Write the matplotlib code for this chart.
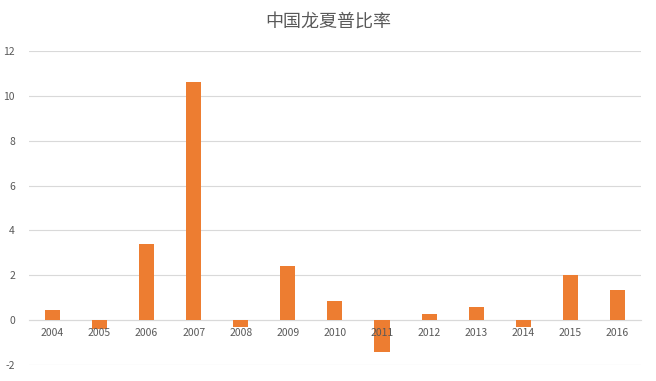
import numpy as np
import matplotlib.pyplot as plt

plt.rcParams['font.family'] = ['Noto Sans CJK SC', 'DejaVu Sans']
plt.rcParams['axes.unicode_minus'] = False

years = ['2004', '2005', '2006', '2007', '2008', '2009', '2010',
         '2011', '2012', '2013', '2014', '2015', '2016']
sharpe = [0.45, -0.40, 3.39, 10.63, -0.30, 2.41, 0.85,
          -1.43, 0.27, 0.58, -0.30, 2.01, 1.34]

fig = plt.figure(figsize=(6.56, 3.81), dpi=100)
ax = fig.add_axes([0.044, 0.042, 0.933, 0.824])

x = np.arange(len(years))
ax.bar(x, sharpe, width=0.32, color='#ED7D31', zorder=3)

ax.set_xlim(-0.5, len(years) - 0.5)
ax.set_ylim(-2, 12)
ax.set_yticks(range(-2, 13, 2))
ax.grid(axis='y', color='#d9d9d9', linewidth=0.8, zorder=0)

for s in ['top', 'right', 'left']:
    ax.spines[s].set_visible(False)
ax.spines['bottom'].set_position(('data', 0))
ax.spines['bottom'].set_color('#d9d9d9')
ax.spines['bottom'].set_zorder(1)

# category labels sit just under the zero line, drawn over the bars
ax.set_xticks(x)
ax.set_xticklabels([])
ax.tick_params(axis='x', length=0)
for xi, yr in zip(x, years):
    ax.annotate(yr, (xi, 0), xytext=(0, -6), textcoords='offset points',
                ha='center', va='top', fontsize=7.5, color='#595959', zorder=5)
ax.tick_params(axis='y', length=0, pad=10, labelsize=7.5, labelcolor='#595959')

fig.suptitle('中国龙夏普比率', y=0.965, fontsize=13, color='#595959')

fig.savefig('out.png', dpi=100)
